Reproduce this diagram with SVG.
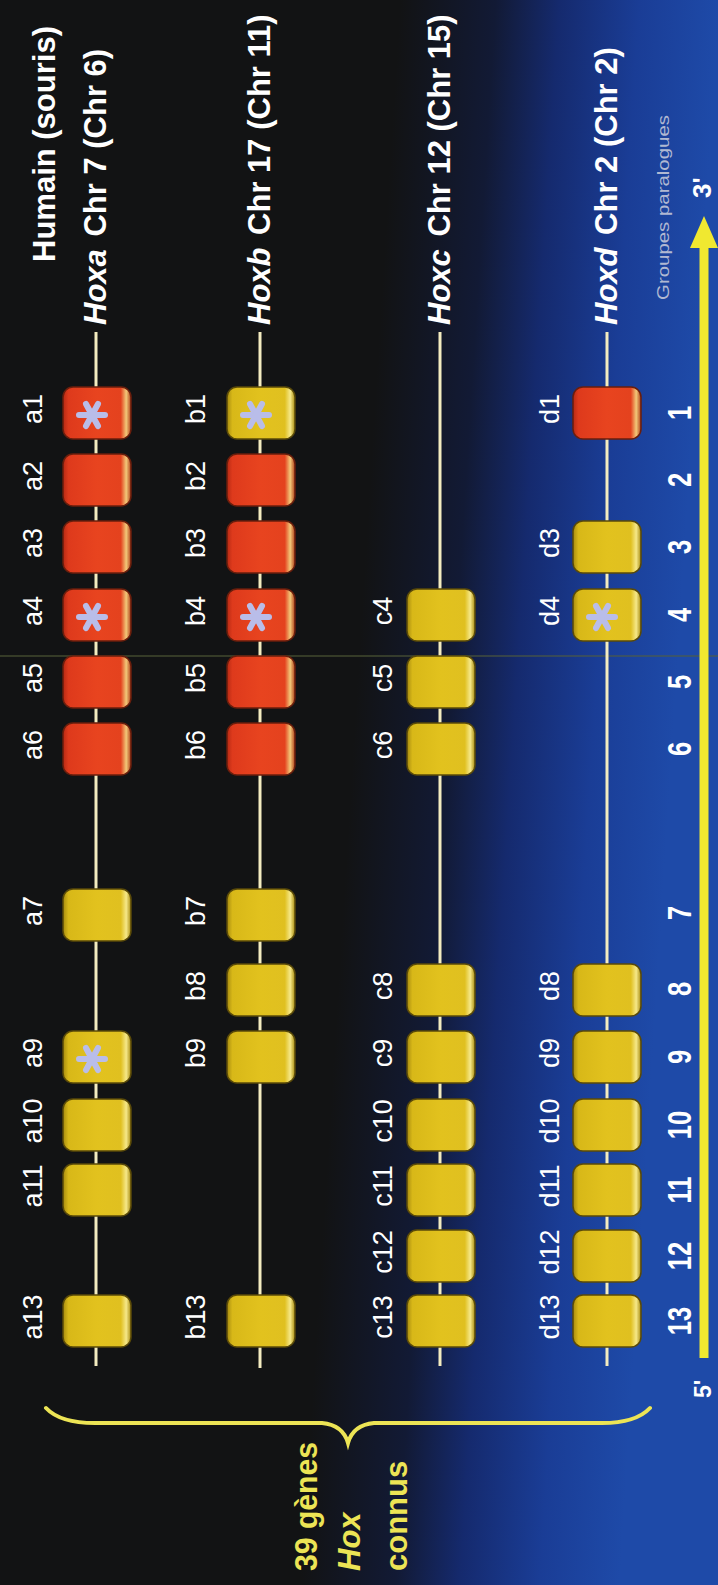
<svg xmlns="http://www.w3.org/2000/svg" xmlns:xlink="http://www.w3.org/1999/xlink" width="718" height="1585" viewBox="0 0 718 1585">
<defs>
<linearGradient id="bg" gradientUnits="userSpaceOnUse" x1="400" y1="0" x2="718" y2="20">
<stop offset="0" stop-color="#121314"/>
<stop offset="0.3" stop-color="#121a35"/>
<stop offset="0.5" stop-color="#152a6e"/>
<stop offset="0.75" stop-color="#1a3d96"/>
<stop offset="1" stop-color="#1e4aa8"/>
</linearGradient>
<linearGradient id="gRed" x1="0" y1="0" x2="1" y2="0">
<stop offset="0" stop-color="#b82a14"/>
<stop offset="0.08" stop-color="#de3a1c"/>
<stop offset="0.5" stop-color="#e8441f"/>
<stop offset="0.85" stop-color="#e4421e"/>
<stop offset="0.93" stop-color="#f2c878"/>
<stop offset="1" stop-color="#b0401a"/>
</linearGradient>
<linearGradient id="gYel" x1="0" y1="0" x2="1" y2="0">
<stop offset="0" stop-color="#a88c10"/>
<stop offset="0.08" stop-color="#d8b818"/>
<stop offset="0.5" stop-color="#e2c21e"/>
<stop offset="0.85" stop-color="#e0c020"/>
<stop offset="0.93" stop-color="#f6e888"/>
<stop offset="1" stop-color="#a88c10"/>
</linearGradient>
<g id="ast" stroke="#b9bde9" stroke-width="6" stroke-linecap="round">
<line x1="-13" y1="0" x2="13" y2="0"/>
<line x1="-6" y1="-11" x2="6" y2="11"/>
<line x1="-6" y1="11" x2="6" y2="-11"/>
</g>
</defs>
<style>
text{font-family:"Liberation Sans",Arial,Helvetica,sans-serif;}
.red{fill:url(#gRed);stroke:#6a1e0c;stroke-width:1.5;}
.yel{fill:url(#gYel);stroke:#5a4a08;stroke-width:1.5;}
.lbl{font-size:27px;fill:#ffffff;text-anchor:middle;}
.num{font-size:34px;font-weight:bold;fill:#ffffff;text-anchor:middle;}
.title{font-size:31px;font-weight:bold;fill:#ffffff;}
.ylw{font-size:31px;font-weight:bold;fill:#ece455;}
.chrom{stroke:#f3ecc0;stroke-width:3;fill:none;}
</style>

<rect x="0" y="0" width="718" height="1585" fill="url(#bg)"/>
<line x1="0" y1="656" x2="718" y2="656" stroke="#56603a" stroke-width="1.5" opacity="0.7"/>

<g id="connectors">
<line class="chrom" x1="96" y1="332" x2="96" y2="1366"/>
<line class="chrom" x1="260" y1="332" x2="260" y2="1368"/>
<line class="chrom" x1="440" y1="332" x2="440" y2="1366"/>
<line class="chrom" x1="607" y1="332" x2="607" y2="1366"/>
</g>

<g id="titles">
<text class="title" transform="translate(55,262) rotate(-90)">Humain (souris)</text>
<text class="title" transform="translate(106,325) rotate(-90)"><tspan font-style="italic">Hoxa</tspan><tspan dx="4"> Chr 7 (Chr 6)</tspan></text>
<text class="title" transform="translate(270,325) rotate(-90)"><tspan font-style="italic">Hoxb</tspan><tspan dx="4"> Chr 17 (Chr 11)</tspan></text>
<text class="title" transform="translate(450,325) rotate(-90)"><tspan font-style="italic">Hoxc</tspan><tspan dx="4"> Chr 12 (Chr 15)</tspan></text>
<text class="title" transform="translate(617,325) rotate(-90)"><tspan font-style="italic">Hoxd</tspan><tspan dx="4"> Chr 2 (Chr 2)</tspan></text>
</g>

<!-- Row a -->
<g id="a1"><rect class="red" x="63" y="387" width="68" height="52" rx="10"/><use xlink:href="#ast" x="92" y="415"/><text class="lbl" transform="translate(42,409) rotate(-90)">a1</text></g>
<g id="a2"><rect class="red" x="63" y="454" width="68" height="52" rx="10"/><text class="lbl" transform="translate(42,476) rotate(-90)">a2</text></g>
<g id="a3"><rect class="red" x="63" y="521" width="68" height="52" rx="10"/><text class="lbl" transform="translate(42,543) rotate(-90)">a3</text></g>
<g id="a4"><rect class="red" x="63" y="589" width="68" height="52" rx="10"/><use xlink:href="#ast" x="92" y="617"/><text class="lbl" transform="translate(42,611) rotate(-90)">a4</text></g>
<g id="a5"><rect class="red" x="63" y="656" width="68" height="52" rx="10"/><text class="lbl" transform="translate(42,678) rotate(-90)">a5</text></g>
<g id="a6"><rect class="red" x="63" y="723" width="68" height="52" rx="10"/><text class="lbl" transform="translate(42,745) rotate(-90)">a6</text></g>
<g id="a7"><rect class="yel" x="63" y="889" width="68" height="52" rx="10"/><text class="lbl" transform="translate(42,911) rotate(-90)">a7</text></g>
<g id="a9"><rect class="yel" x="63" y="1031" width="68" height="52" rx="10"/><use xlink:href="#ast" x="92" y="1059"/><text class="lbl" transform="translate(42,1053) rotate(-90)">a9</text></g>
<g id="a10"><rect class="yel" x="63" y="1099" width="68" height="52" rx="10"/><text class="lbl" transform="translate(42,1121) rotate(-90)">a10</text></g>
<g id="a11"><rect class="yel" x="63" y="1164" width="68" height="52" rx="10"/><text class="lbl" transform="translate(42,1186) rotate(-90)">a11</text></g>
<g id="a13"><rect class="yel" x="63" y="1295" width="68" height="52" rx="10"/><text class="lbl" transform="translate(42,1317) rotate(-90)">a13</text></g>

<!-- Row b -->
<g id="b1"><rect class="yel" x="227" y="387" width="68" height="52" rx="10"/><use xlink:href="#ast" x="256" y="415"/><text class="lbl" transform="translate(205,409) rotate(-90)">b1</text></g>
<g id="b2"><rect class="red" x="227" y="454" width="68" height="52" rx="10"/><text class="lbl" transform="translate(205,476) rotate(-90)">b2</text></g>
<g id="b3"><rect class="red" x="227" y="521" width="68" height="52" rx="10"/><text class="lbl" transform="translate(205,543) rotate(-90)">b3</text></g>
<g id="b4"><rect class="red" x="227" y="589" width="68" height="52" rx="10"/><use xlink:href="#ast" x="256" y="617"/><text class="lbl" transform="translate(205,611) rotate(-90)">b4</text></g>
<g id="b5"><rect class="red" x="227" y="656" width="68" height="52" rx="10"/><text class="lbl" transform="translate(205,678) rotate(-90)">b5</text></g>
<g id="b6"><rect class="red" x="227" y="723" width="68" height="52" rx="10"/><text class="lbl" transform="translate(205,745) rotate(-90)">b6</text></g>
<g id="b7"><rect class="yel" x="227" y="889" width="68" height="52" rx="10"/><text class="lbl" transform="translate(205,911) rotate(-90)">b7</text></g>
<g id="b8"><rect class="yel" x="227" y="964" width="68" height="52" rx="10"/><text class="lbl" transform="translate(205,986) rotate(-90)">b8</text></g>
<g id="b9"><rect class="yel" x="227" y="1031" width="68" height="52" rx="10"/><text class="lbl" transform="translate(205,1053) rotate(-90)">b9</text></g>
<g id="b13"><rect class="yel" x="227" y="1295" width="68" height="52" rx="10"/><text class="lbl" transform="translate(205,1317) rotate(-90)">b13</text></g>

<!-- Row c -->
<g id="c4"><rect class="yel" x="407" y="589" width="68" height="52" rx="10"/><text class="lbl" transform="translate(392,611) rotate(-90)">c4</text></g>
<g id="c5"><rect class="yel" x="407" y="656" width="68" height="52" rx="10"/><text class="lbl" transform="translate(392,678) rotate(-90)">c5</text></g>
<g id="c6"><rect class="yel" x="407" y="723" width="68" height="52" rx="10"/><text class="lbl" transform="translate(392,745) rotate(-90)">c6</text></g>
<g id="c8"><rect class="yel" x="407" y="964" width="68" height="52" rx="10"/><text class="lbl" transform="translate(392,986) rotate(-90)">c8</text></g>
<g id="c9"><rect class="yel" x="407" y="1031" width="68" height="52" rx="10"/><text class="lbl" transform="translate(392,1053) rotate(-90)">c9</text></g>
<g id="c10"><rect class="yel" x="407" y="1099" width="68" height="52" rx="10"/><text class="lbl" transform="translate(392,1121) rotate(-90)">c10</text></g>
<g id="c11"><rect class="yel" x="407" y="1164" width="68" height="52" rx="10"/><text class="lbl" transform="translate(392,1186) rotate(-90)">c11</text></g>
<g id="c12"><rect class="yel" x="407" y="1230" width="68" height="52" rx="10"/><text class="lbl" transform="translate(392,1252) rotate(-90)">c12</text></g>
<g id="c13"><rect class="yel" x="407" y="1295" width="68" height="52" rx="10"/><text class="lbl" transform="translate(392,1317) rotate(-90)">c13</text></g>

<!-- Row d -->
<g id="d1"><rect class="red" x="573" y="387" width="68" height="52" rx="10"/><text class="lbl" transform="translate(559,409) rotate(-90)">d1</text></g>
<g id="d3"><rect class="yel" x="573" y="521" width="68" height="52" rx="10"/><text class="lbl" transform="translate(559,543) rotate(-90)">d3</text></g>
<g id="d4"><rect class="yel" x="573" y="589" width="68" height="52" rx="10"/><use xlink:href="#ast" x="602" y="617"/><text class="lbl" transform="translate(559,611) rotate(-90)">d4</text></g>
<g id="d8"><rect class="yel" x="573" y="964" width="68" height="52" rx="10"/><text class="lbl" transform="translate(559,986) rotate(-90)">d8</text></g>
<g id="d9"><rect class="yel" x="573" y="1031" width="68" height="52" rx="10"/><text class="lbl" transform="translate(559,1053) rotate(-90)">d9</text></g>
<g id="d10"><rect class="yel" x="573" y="1099" width="68" height="52" rx="10"/><text class="lbl" transform="translate(559,1121) rotate(-90)">d10</text></g>
<g id="d11"><rect class="yel" x="573" y="1164" width="68" height="52" rx="10"/><text class="lbl" transform="translate(559,1186) rotate(-90)">d11</text></g>
<g id="d12"><rect class="yel" x="573" y="1230" width="68" height="52" rx="10"/><text class="lbl" transform="translate(559,1252) rotate(-90)">d12</text></g>
<g id="d13"><rect class="yel" x="573" y="1295" width="68" height="52" rx="10"/><text class="lbl" transform="translate(559,1317) rotate(-90)">d13</text></g>

<!-- paralog group numbers -->
<g id="numbers">
<text class="num" transform="translate(691,413) rotate(-90) scale(0.75,1)">1</text>
<text class="num" transform="translate(691,480) rotate(-90) scale(0.75,1)">2</text>
<text class="num" transform="translate(691,547) rotate(-90) scale(0.75,1)">3</text>
<text class="num" transform="translate(691,615) rotate(-90) scale(0.75,1)">4</text>
<text class="num" transform="translate(691,682) rotate(-90) scale(0.75,1)">5</text>
<text class="num" transform="translate(691,749) rotate(-90) scale(0.75,1)">6</text>
<text class="num" transform="translate(691,913) rotate(-90) scale(0.75,1)">7</text>
<text class="num" transform="translate(691,989) rotate(-90) scale(0.75,1)">8</text>
<text class="num" transform="translate(691,1057) rotate(-90) scale(0.75,1)">9</text>
<text class="num" transform="translate(691,1125) rotate(-90) scale(0.75,1)">10</text>
<text class="num" transform="translate(691,1190) rotate(-90) scale(0.75,1)">11</text>
<text class="num" transform="translate(691,1256) rotate(-90) scale(0.75,1)">12</text>
<text class="num" transform="translate(691,1321) rotate(-90) scale(0.75,1)">13</text>
</g>

<!-- axis arrow -->
<g id="axis">
<line x1="704" y1="1358" x2="704" y2="244" stroke="#f0e830" stroke-width="9"/>
<path d="M704,216 L718,248 L690,248 Z" fill="#f0e830"/>
<text class="title" style="font-size:26px" transform="translate(711,198) rotate(-90)">3'</text>
<text class="title" style="font-size:23px" transform="translate(711,1398) rotate(-90)">5'</text>
<text transform="translate(669,300) rotate(-90)" font-size="17" fill="#b0b8d2" textLength="185" lengthAdjust="spacingAndGlyphs">Groupes paralogues</text>
</g>

<!-- brace and caption -->
<g id="brace">
<path d="M46,1408 Q60,1423 95,1423 L322,1423 Q343,1425 348,1443 Q353,1425 374,1423 L602,1423 Q636,1423 650,1408" fill="none" stroke="#ece455" stroke-width="4" stroke-linecap="round"/>
<text class="ylw" transform="translate(317,1571) rotate(-90)" textLength="129" lengthAdjust="spacingAndGlyphs">39 gènes</text>
<text class="ylw" transform="translate(360,1571) rotate(-90)" font-style="italic">Hox</text>
<text class="ylw" transform="translate(407,1571) rotate(-90)">connus</text>
</g>
</svg>
